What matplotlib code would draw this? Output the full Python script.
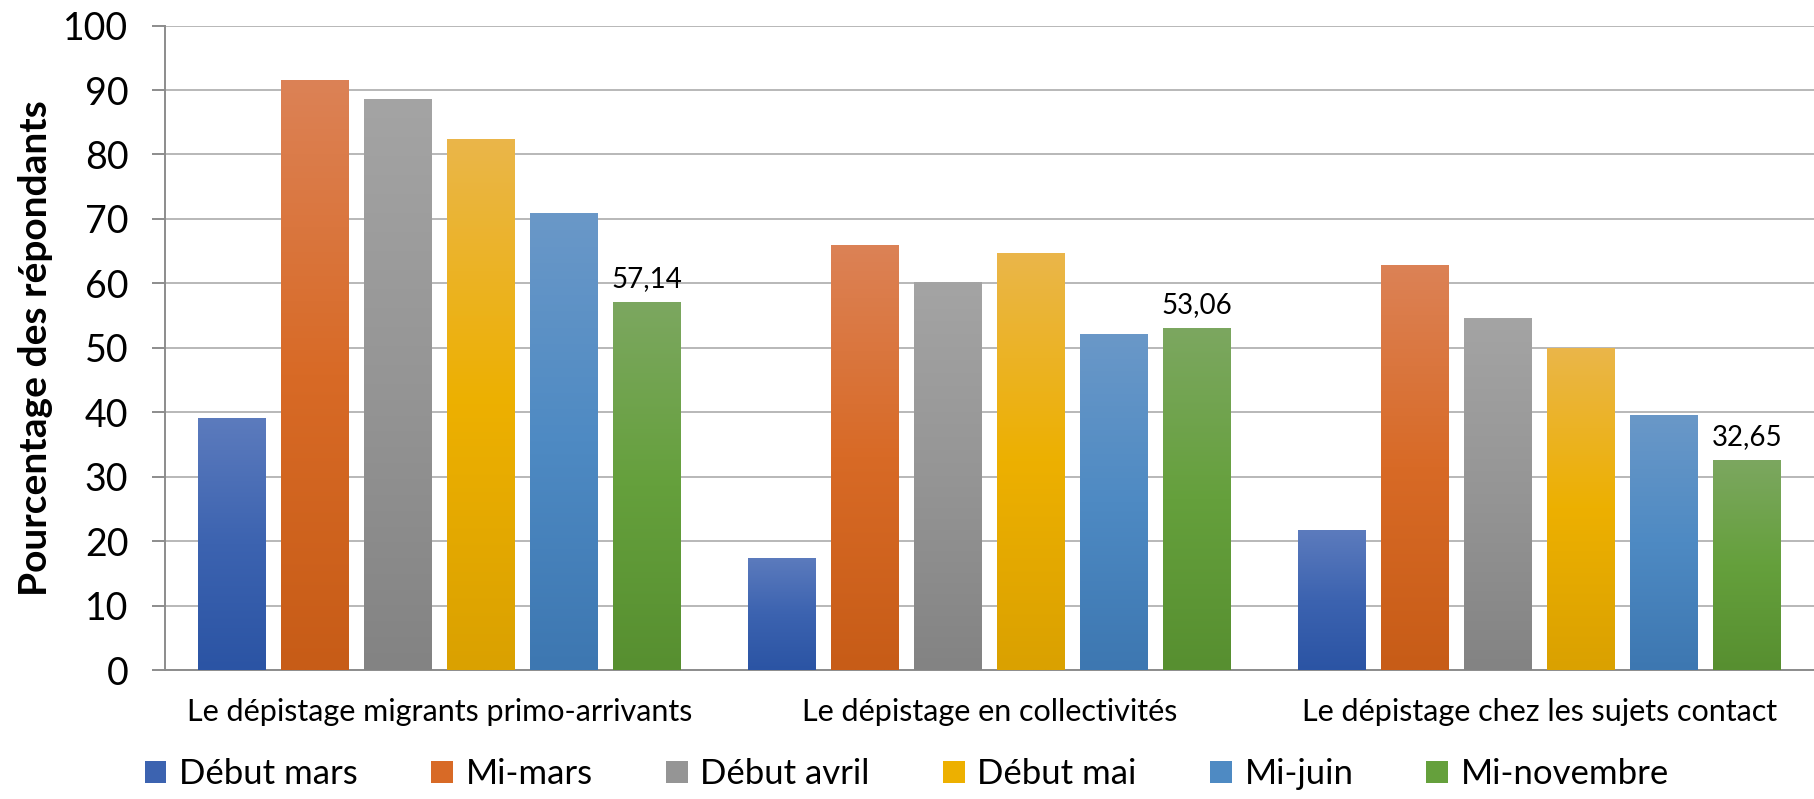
import matplotlib
matplotlib.use("Agg")
import matplotlib.pyplot as plt
from matplotlib.patches import Patch
from matplotlib.colors import LinearSegmentedColormap
import numpy as np

plt.rcParams['font.family'] = ['Lato', 'DejaVu Sans']

# Data
categories = ["Le dépistage migrants primo-arrivants",
              "Le dépistage en collectivités",
              "Le dépistage chez les sujets contact"]
series = ["Début mars", "Mi-mars", "Début avril", "Début mai", "Mi-juin", "Mi-novembre"]
values = [
    [39.1, 17.4, 21.7],    # Début mars
    [91.6, 66.0, 62.9],    # Mi-mars
    [88.6, 60.2, 54.6],    # Début avril
    [82.4, 64.7, 50.0],    # Début mai
    [70.9, 52.1, 39.6],    # Mi-juin
    [57.14, 53.06, 32.65], # Mi-novembre
]
labelled = "Mi-novembre"

# gradient colours: top, middle, bottom
grads = [
    ("#5C7BBD", "#3C63B0", "#2B54A4"),
    ("#DC8256", "#D86A26", "#C75C17"),
    ("#A4A4A4", "#959595", "#838383"),
    ("#EAB64A", "#EDB000", "#DAA100"),
    ("#6A98C8", "#4E8AC3", "#3D77B1"),
    ("#7CA760", "#65A03C", "#578F30"),
]

fig = plt.figure(figsize=(18.14, 7.99), dpi=100)
ax = fig.add_axes([0.091, 0.1614, 0.909, 0.8066])

x = np.arange(len(categories))
step = 0.151
width = 0.1234
n = len(series)

for i, name in enumerate(series):
    offs = (i - (n - 1) / 2) * step
    bars = ax.bar(x + offs, values[i], width, color=grads[i][1], zorder=3, label=name)
    cmap = LinearSegmentedColormap.from_list(name, [grads[i][2], grads[i][1], grads[i][0]])
    grad = np.linspace(0, 1, 256).reshape(-1, 1)
    for b in bars:
        x0, y0 = b.get_x(), b.get_y()
        w, h = b.get_width(), b.get_height()
        im = ax.imshow(grad, cmap=cmap, origin='lower', aspect='auto',
                       extent=[x0, x0 + w, y0, y0 + h], zorder=4)
        im.set_clip_path(b)
    if name == labelled:
        for b, v in zip(bars, values[i]):
            ax.annotate(f"{v:.2f}".replace('.', ','),
                        (b.get_x() + b.get_width() / 2, b.get_height()),
                        xytext=(0, 7), textcoords='offset points',
                        ha='center', va='bottom', fontsize=20, zorder=5)

ax.set_xlim(-0.5, 2.5)
ax.set_ylim(0, 100)
ax.set_yticks(range(0, 101, 10))
ax.set_xticks(x)
ax.set_xticklabels(categories, fontsize=22)
ax.tick_params(axis='x', length=0, pad=20)
ax.tick_params(axis='y', labelsize=27, length=9.5, width=1.4, color='#8C8C8C', pad=17)
ax.yaxis.grid(True, color='#B8B8B8', linewidth=1.4, zorder=0)
ax.set_axisbelow(True)
for s in ['top', 'right']:
    ax.spines[s].set_visible(False)
ax.spines['left'].set_color('#8C8C8C')
ax.spines['left'].set_linewidth(1.4)
ax.spines['bottom'].set_color('#8C8C8C')
ax.spines['bottom'].set_linewidth(1.4)

ax.set_ylabel("Pourcentage des répondants", fontsize=28, fontweight='bold', labelpad=7)

handles = [Patch(facecolor=g[1], label=s) for g, s in zip(grads, series)]
fig.legend(handles=handles, loc='center', bbox_to_anchor=(0.5, 0.031), ncol=6,
           frameon=False, fontsize=25, handlelength=0.63, handleheight=0.63,
           handletextpad=0.37, columnspacing=2.1)

fig.savefig("out.png", dpi=100)
